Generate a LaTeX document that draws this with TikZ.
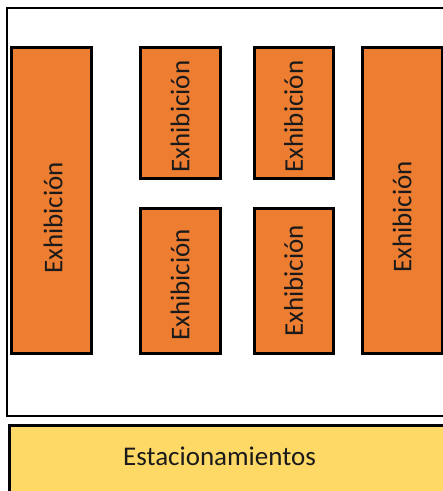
\documentclass[tikz,border=0pt]{standalone}
\usepackage{fontspec}
\setmainfont{Carlito}
\definecolor{exhorange}{HTML}{ED7D31}
\definecolor{parkyellow}{HTML}{FFD966}
\definecolor{txt}{HTML}{1A1A1A}
\begin{document}
\begin{tikzpicture}[x=1pt,y=-1pt,
  exh/.style={draw=black,line width=3pt,fill=exhorange,inner sep=0pt},
  lbl/.style={font=\fontsize{27}{31}\selectfont,text=txt,rotate=90,inner sep=0pt},
  park/.style={draw=black,line width=3pt,fill=parkyellow,inner sep=0pt},
  lot/.style={draw=black,line width=2.5pt,fill=white}]
\useasboundingbox (0,0) rectangle (443,491);
\begin{scope}
\clip (0,0) rectangle (443,491);
\draw[lot] (7,8) rectangle (460,416);
\draw[park] (9.5,425.5) rectangle (460,510);
\end{scope}
\node[text=txt,font=\fontsize{27}{31}\selectfont] (est) at (219.5,456) {Estacionamientos};
\node[exh,minimum width=80pt,minimum height=306pt] (e1) at (51,200) {};
\node[exh,minimum width=80pt,minimum height=131pt] (e2) at (180,112.5) {};
\node[exh,minimum width=79pt,minimum height=131pt] (e3) at (293.5,112.5) {};
\node[exh,minimum width=80pt,minimum height=145pt] (e4) at (180,280.5) {};
\node[exh,minimum width=79pt,minimum height=145pt] (e5) at (293.5,280.5) {};
\node[exh,minimum width=80pt,minimum height=306pt] (e6) at (402,200) {};
\node[lbl] (t1) at ([xshift=2pt,yshift=-18pt]e1.center) {Exhibición};
\node[lbl] (t2) at ([yshift=-4pt]e2.center) {Exhibición};
\node[lbl] (t3) at ([yshift=-4pt]e3.center) {Exhibición};
\node[lbl] (t4) at ([yshift=-4.5pt]e4.center) {Exhibición};
\node[lbl] (t5) at ([yshift=-0.5pt]e5.center) {Exhibición};
\node[lbl] (t6) at ([yshift=-17pt]e6.center) {Exhibición};
\end{tikzpicture}
\end{document}
